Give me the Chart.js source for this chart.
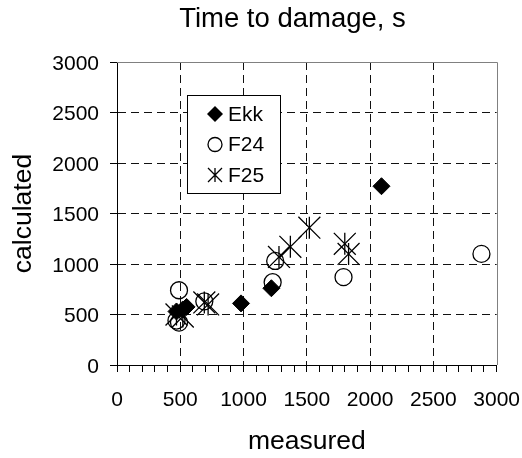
<!DOCTYPE html>
<html>
<head>
<meta charset="utf-8">
<script src="https://cdn.jsdelivr.net/npm/chart.js@4/dist/chart.umd.min.js"></script>
<style>
  html, body { margin:0; padding:0; background:#fff; }
  #wrap { width:522px; height:458px; }
</style>
</head>
<body>
<div id="wrap"><canvas id="chart" width="522" height="458"></canvas></div>
<script>
// values
const ekkX = [470, 520, 550, 980, 1220, 2090];
const ekkY = [530, 550, 575, 610, 760, 1770];
const f24X = [490, 470, 490, 690, 1230, 1250, 1790, 2880];
const f24Y = [740, 440, 420, 630, 820, 1030, 870, 1100];
const f25X = [470, 520, 690, 720, 1280, 1370, 1520, 1800, 1830];
const f25Y = [500, 480, 620, 600, 1070, 1170, 1360, 1200, 1100];
const seriesNames = ['Ekk', 'F24', 'F25'];
const axisTicks = [0, 500, 1000, 1500, 2000, 2500, 3000];

const FONT = '"Liberation Sans", Arial, sans-serif';

function toPoints(xs, ys){ return xs.map((x,i) => ({x:x, y:ys[i]})); }

const frame = {
  id:'frame',
  beforeDatasetsDraw(chart){
    const {ctx, chartArea:a} = chart;
    ctx.save();
    ctx.strokeStyle = '#808080'; ctx.lineWidth = 1;
    ctx.beginPath();
    ctx.moveTo(a.left, Math.round(a.top) + 0.5); ctx.lineTo(Math.round(a.right) + 0.5, Math.round(a.top) + 0.5);
    ctx.lineTo(Math.round(a.right) + 0.5, a.bottom);
    ctx.stroke();
    ctx.restore();
  },
  afterDraw(chart){
    const ctx = chart.ctx;
    ctx.save();
    ctx.fillStyle = '#000';
    ctx.font = '27.5px ' + FONT;
    ctx.textAlign = 'center'; ctx.textBaseline = 'alphabetic';
    ctx.fillText('Time to damage, s', 292.5, 27);
    ctx.restore();
  }
};

// F25 marker = X (crossRot) plus a vertical bar through each point
const starBars = {
  id:'starBars',
  afterDatasetsDraw(chart){
    const ctx = chart.ctx;
    const meta = chart.getDatasetMeta(2);
    ctx.save();
    ctx.strokeStyle = '#000'; ctx.lineWidth = 1.3;
    ctx.beginPath();
    meta.data.forEach(p => { ctx.moveTo(p.x, p.y - 11); ctx.lineTo(p.x, p.y + 11); });
    ctx.stroke();
    ctx.restore();
  }
};

// legend box sitting inside the plot
const boxLegend = {
  id:'boxLegend',
  afterDatasetsDraw(chart){
    const ctx = chart.ctx;
    const L = 187.5, T = 95.5, W = 93, H = 98;
    ctx.save();
    ctx.fillStyle = '#fff'; ctx.fillRect(L, T, W, H);
    ctx.strokeStyle = '#000'; ctx.lineWidth = 1; ctx.strokeRect(L, T, W, H);
    ctx.font = '21px ' + FONT; ctx.textBaseline = 'middle'; ctx.textAlign = 'left';
    ctx.fillStyle = '#000';
    const ys = [114, 144.5, 175];
    const mx = 215;
    // Ekk
    ctx.beginPath();
    ctx.moveTo(mx-8, ys[0]); ctx.lineTo(mx, ys[0]-8); ctx.lineTo(mx+8, ys[0]); ctx.lineTo(mx, ys[0]+8);
    ctx.closePath(); ctx.fill();
    // F24
    ctx.beginPath(); ctx.lineWidth = 1.3;
    ctx.arc(mx, ys[1], 7, 0, Math.PI*2); ctx.stroke();
    // F25
    ctx.beginPath();
    ctx.moveTo(mx-7, ys[2]-7); ctx.lineTo(mx+7, ys[2]+7);
    ctx.moveTo(mx+7, ys[2]-7); ctx.lineTo(mx-7, ys[2]+7);
    ctx.moveTo(mx, ys[2]-7); ctx.lineTo(mx, ys[2]+7);
    ctx.stroke();
    seriesNames.forEach((n,i) => ctx.fillText(n, 228, ys[i] + 1));
    ctx.restore();
  }
};

const inner = v => v !== axisTicks[0] && v !== axisTicks[axisTicks.length-1];

new Chart(document.getElementById('chart'), {
  type:'scatter',
  data:{
    datasets:[
      { label:seriesNames[0], data:toPoints(ekkX, ekkY), pointStyle:'rectRot', pointRadius:8.5,
        backgroundColor:'#000', borderColor:'#000', borderWidth:1 },
      { label:seriesNames[1], data:toPoints(f24X, f24Y), pointStyle:'circle', pointRadius:8.5,
        backgroundColor:'rgba(0,0,0,0)', borderColor:'#000', borderWidth:1.3 },
      { label:seriesNames[2], data:toPoints(f25X, f25Y), pointStyle:'crossRot', pointRadius:15.5,
        backgroundColor:'#000', borderColor:'#000', borderWidth:1.3 }
    ]
  },
  options:{
    responsive:false, animation:false,
    events:[],
    layout:{ padding:{ top:62, right:25, left:0, bottom:0 } },
    plugins:{ legend:{ display:false }, tooltip:{ enabled:false }, title:{ display:false } },
    scales:{
      x:{
        type:'linear', min:0, max:3000,
        afterFit: s => { s.height = 93; },
        ticks:{ stepSize:100, autoSkip:false, maxRotation:0, padding:2, color:'#000',
          font:{ family:FONT, size:21, lineHeight:2.53 },
          callback: v => v % 500 === 0 ? String(v) : '' },
        grid:{ color: c => (c.tick && c.tick.value % 500 === 0 && inner(c.tick.value)) ? '#111' : 'rgba(0,0,0,0)',
          tickColor:'#000', tickLength:7, lineWidth:1 },
        border:{ color:'#000', width:1, dash:[8,5] },
        title:{ display:true, text:'measured', color:'#000', font:{ family:FONT, size:26.5 }, padding:{ top:0, bottom:0 } }
      },
      y:{
        type:'linear', min:0, max:3000,
        afterFit: s => { s.width = 117; },
        ticks:{ stepSize:500, padding:11, color:'#000', labelOffset:2,
          font:{ family:FONT, size:21 }, callback: v => String(v) },
        grid:{ color: c => (c.tick && inner(c.tick.value)) ? '#111' : 'rgba(0,0,0,0)',
          tickColor:'#000', tickLength:7, lineWidth:1 },
        border:{ color:'#000', width:1, dash:[8,5] },
        title:{ display:true, text:'calculated', color:'#000', font:{ family:FONT, size:26.5 }, padding:{ top:8, bottom:0 } }
      }
    }
  },
  plugins:[frame, starBars, boxLegend]
});
</script>
</body>
</html>
